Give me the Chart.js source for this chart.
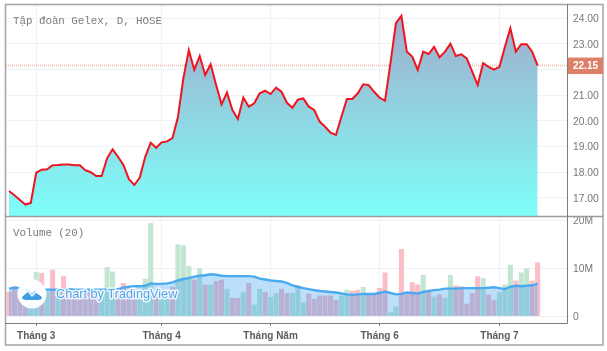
<!DOCTYPE html>
<html>
<head>
<meta charset="utf-8">
<style>
html,body{margin:0;padding:0;background:#fff;width:607px;height:351px;overflow:hidden}
#w{position:absolute;left:0;top:0;width:607px;height:351px;filter:blur(0.35px)}
</style>
<script src="https://cdn.jsdelivr.net/npm/chart.js@4"></script>
</head>
<body>
<div id="w"><canvas id="c" width="607" height="351"></canvas></div>
<script>
const priceValues = [17.27,17.1,16.92,16.74,16.8,17.98,18.1,18.11,18.27,18.28,18.3,18.3,18.27,18.27,18.08,18.0,17.85,17.85,18.54,18.89,18.6,18.28,17.73,17.5,17.79,18.6,19.15,18.95,19.16,19.2,19.33,20.15,21.66,22.75,21.98,22.52,21.78,22.2,21.4,20.64,21.1,20.42,20.07,20.9,20.55,20.68,21.07,21.17,21.04,21.29,21.13,20.7,20.51,20.82,20.87,20.55,20.42,19.97,19.77,19.54,19.45,20.16,20.85,20.85,21.07,21.42,21.39,21.13,20.9,20.78,22.25,23.8,24.09,22.69,22.5,21.98,22.69,22.6,22.88,22.47,22.69,23.0,22.52,22.59,22.43,21.91,21.39,22.24,22.1,21.99,22.1,22.88,23.6,22.69,22.98,22.98,22.69,22.15];
const volumeValues = [5.0,6.2,5.2,4.8,4.4,9.1,8.9,5.0,9.6,5.2,8.3,5.0,4.9,4.9,5.0,5.0,4.6,4.8,10.1,9.2,5.2,6.8,5.4,5.0,5.1,7.7,19.3,5.0,4.7,5.0,6.0,14.9,14.7,10.4,7.5,9.9,6.5,6.5,7.2,7.5,5.6,3.7,3.7,4.9,6.8,2.3,5.6,4.9,3.9,4.7,5.6,4.7,4.7,6.3,2.8,4.6,3.5,4.2,4.2,4.2,3.3,4.2,5.4,5.2,5.4,6.0,4.4,4.6,5.8,9.0,0.7,1.9,13.9,4.5,7.0,6.5,8.5,5.4,4.0,4.4,3.7,8.5,6.3,6.1,2.5,4.7,8.2,7.8,4.4,3.2,4.9,6.5,10.6,7.3,9.0,9.9,7.3,11.1];
const volumeUp = [0,0,0,0,1,1,0,1,0,1,0,0,0,0,0,0,0,1,1,1,0,0,0,0,1,1,1,0,1,1,0,1,1,1,0,1,0,1,0,0,1,0,0,1,0,1,1,0,1,1,0,0,1,1,1,0,0,0,0,0,0,1,1,0,0,1,0,0,0,0,1,1,0,0,0,0,1,0,1,0,1,1,0,0,0,0,0,1,0,0,1,1,1,0,1,1,0,0];
const volumeMA = [5.7,5.9,5.8,5.6,5.6,5.6,5.6,5.5,5.5,5.5,5.6,5.6,5.5,5.5,5.5,5.5,5.5,5.5,5.5,5.6,5.6,5.9,6.1,6.2,6.2,6.3,6.8,6.7,6.7,6.8,7.0,7.4,7.7,7.9,8.2,8.4,8.5,8.7,8.6,8.4,8.3,8.3,8.3,8.3,8.3,8.2,7.8,7.6,7.4,7.3,7.2,6.9,6.4,6.1,5.8,5.6,5.4,5.2,5.1,5.0,4.9,4.7,4.5,4.4,4.5,4.6,4.6,4.6,4.8,5.1,4.8,4.5,4.6,4.9,4.8,4.7,5.0,5.2,5.4,5.5,5.7,5.7,5.7,5.8,5.8,5.8,5.8,5.8,5.9,6.0,5.8,5.6,6.1,6.3,6.2,6.3,6.4,6.7];
const timeTickIndex = [5,28,48,68,90];
const timeTickLabels = ["Tháng 3","Tháng 4","Tháng Năm","Tháng 6","Tháng 7"];
const priceTicks = [17,18,19,20,21,22,23,24];
const priceTickLabels = ["17.00","18.00","19.00","20.00","21.00","","23.00","24.00"];
const volumeTicks = [0,10,20];
const volumeTickLabels = ["0","10M","20M"];
const lastPrice = 22.15;
const paneFloorPrice = 16.3;
const titleText = "Tập đoàn Gelex, D, HOSE";
const volumeTitle = "Volume (20)";
const watermark = "Chart by TradingView";

const xMin = -0.55, xMax = 102.39;
const grid = '#eef2f6';
const noPad = s => { s.paddingTop = 0; s.paddingBottom = 0; s.paddingLeft = 0; s.paddingRight = 0; };

const overlay = {
  id: 'overlay',
  afterLayout(chart) {
    chart.scales.yV.right = 607;
  },
  beforeDraw(chart) {
    const c = chart.ctx;
    c.save();
    c.fillStyle = '#fff';
    c.fillRect(0, 0, 607, 351);
    c.restore();
  },
  afterDatasetsDraw(chart) {
    const c = chart.ctx, a = chart.chartArea, py = chart.scales.yP;
    const sepY = Math.round(py.getPixelForValue(paneFloorPrice)) + 0.5;
    c.save();
    c.strokeStyle = '#a9a9a9'; c.lineWidth = 1.6;
    c.strokeRect(5.5, 4.5, 597.5, 340.5);
    c.strokeStyle = '#9a9a9a'; c.lineWidth = 1.6;
    c.beginPath(); c.moveTo(5, sepY); c.lineTo(603, sepY); c.stroke();
    c.strokeStyle = '#7d7d7d'; c.lineWidth = 1;
    c.beginPath(); c.moveTo(a.right + 0.5, 4); c.lineTo(a.right + 0.5, a.bottom + 0.5); c.lineTo(5, a.bottom + 0.5); c.stroke();
    c.beginPath(); c.arc(32, 294, 14.5, 0, Math.PI * 2); c.fillStyle = 'rgba(255,255,255,0.95)'; c.fill();
    c.fillStyle = '#3f9fe6';
    c.beginPath();
    c.moveTo(22, 297); c.lineTo(28, 290); c.lineTo(32, 294); c.lineTo(35, 291); c.lineTo(42, 297);
    c.quadraticCurveTo(42, 300, 38, 300); c.lineTo(26, 300); c.quadraticCurveTo(22, 300, 22, 297);
    c.closePath(); c.fill();
    c.strokeStyle = '#fff'; c.lineWidth = 1.4;
    c.beginPath(); c.moveTo(22, 296); c.lineTo(28, 291); c.lineTo(32, 296); c.lineTo(36, 292); c.lineTo(42, 296); c.stroke();
    c.font = '12.7px "Liberation Sans", Arial, sans-serif';
    c.textBaseline = 'middle'; c.textAlign = 'left';
    c.lineJoin = 'round';
    c.strokeStyle = 'rgba(255,255,255,0.85)'; c.lineWidth = 3;
    c.strokeText(watermark, 56, 294.5);
    c.fillStyle = '#4ea6ea';
    c.fillText(watermark, 56, 294.5);
    c.font = '10.8px "Liberation Mono", monospace';
    c.fillStyle = '#7a7a7a';
    c.fillText(titleText, 13, 21);
    c.fillText(volumeTitle, 13, 233);
    const ly = py.getPixelForValue(lastPrice);
    c.fillStyle = '#dd8069';
    c.fillRect(a.right + 1, ly - 8, 35, 16.5);
    c.font = 'bold 10px "Liberation Sans", Arial, sans-serif';
    c.fillStyle = '#fff';
    c.fillText(lastPrice.toFixed(2), a.right + 6, ly + 0.5);
    c.restore();
  }
};

new Chart(document.getElementById('c'), {
  type: 'bar',
  plugins: [overlay],
  data: {
    datasets: [
      {
        type: 'bar', label: 'Volume', yAxisID: 'yV', xAxisID: 'x', order: 5,
        data: volumeValues.map((v, i) => ({ x: i, y: v })),
        backgroundColor: volumeUp.map(u => u ? '#c3e6d2' : '#fabec6'),
        barThickness: 4.4, grouped: false, borderWidth: 0
      },
      {
        type: 'line', label: 'Volume MA', yAxisID: 'yV', xAxisID: 'x', order: 4,
        data: volumeMA.map((v, i) => ({ x: i, y: v })),
        borderColor: '#4ba9ef', borderWidth: 2.4, pointRadius: 0, tension: 0,
        backgroundColor: 'rgba(33,150,243,0.3)', fill: { value: 0 }
      },
      {
        type: 'line', label: 'Last', yAxisID: 'yP', xAxisID: 'x', order: 2,
        data: [{ x: xMin, y: lastPrice }, { x: xMax, y: lastPrice }],
        borderColor: 'rgba(235,130,110,0.6)', borderWidth: 1.4, borderDash: [1, 1],
        pointRadius: 0, fill: false
      },
      {
        type: 'line', label: 'Price', yAxisID: 'yP', xAxisID: 'x', order: 1,
        data: priceValues.map((v, i) => ({ x: i, y: v })),
        borderColor: '#f0141e', borderWidth: 2, pointRadius: 0, tension: 0,
        borderJoinStyle: 'miter',
        fill: { value: paneFloorPrice },
        backgroundColor(ctx) {
          const { chart } = ctx;
          if (!chart.chartArea) return '#8ff';
          const s = chart.scales.yP;
          const g = chart.ctx.createLinearGradient(0, s.getPixelForValue(24.1), 0, s.getPixelForValue(paneFloorPrice));
          g.addColorStop(0, 'rgb(160,172,203)');
          g.addColorStop(1, 'rgb(126,254,250)');
          return g;
        }
      }
    ]
  },
  options: {
    responsive: false,
    animation: false,
    events: [],
    layout: { padding: { left: 6, top: 5, right: 0, bottom: 6 } },
    plugins: { legend: { display: false }, tooltip: { enabled: false } },
    scales: {
      x: {
        type: 'linear', position: 'bottom', min: xMin, max: xMax, offset: false,
        afterBuildTicks(s) { s.ticks = timeTickIndex.map(v => ({ value: v })); },
        afterFit(s) { s.height = 22; noPad(s); },
        grid: { color: grid, lineWidth: 1, drawTicks: true, tickLength: 3, tickColor: '#7d7d7d', offset: false },
        border: { display: false },
        ticks: {
          autoSkip: false, maxRotation: 0, padding: 4,
          color: '#5c5c5c',
          font: { family: '"Liberation Sans", Arial, sans-serif', size: 10, weight: 'bold' },
          callback(v) { return timeTickLabels[timeTickIndex.indexOf(v)]; }
        }
      },
      yV: {
        type: 'linear', position: 'right', weight: 0,
        min: -1.458, max: 64.8,
        afterBuildTicks(s) { s.ticks = volumeTicks.map(v => ({ value: v })); },
        afterFit(s) { s.width = 0; noPad(s); },
        grid: { color: grid, lineWidth: 1, drawTicks: false },
        border: { display: false },
        ticks: {
          autoSkip: false, padding: 6, color: '#777', labelOffset: 1,
          font: { family: '"Liberation Sans", Arial, sans-serif', size: 10.3 },
          callback(v) { return volumeTickLabels[volumeTicks.indexOf(v)]; }
        }
      },
      yP: {
        type: 'linear', position: 'right', weight: 1,
        min: 12.132, max: 24.506,
        afterBuildTicks(s) { s.ticks = priceTicks.map(v => ({ value: v })); },
        afterFit(s) { s.width = 40; noPad(s); },
        grid: { color: grid, lineWidth: 1, drawTicks: false },
        border: { display: false },
        ticks: {
          autoSkip: false, padding: 6, color: '#777', labelOffset: 1,
          font: { family: '"Liberation Sans", Arial, sans-serif', size: 10.3 },
          callback(v) { return priceTickLabels[priceTicks.indexOf(v)]; }
        }
      }
    }
  }
});
</script>
</body>
</html>
